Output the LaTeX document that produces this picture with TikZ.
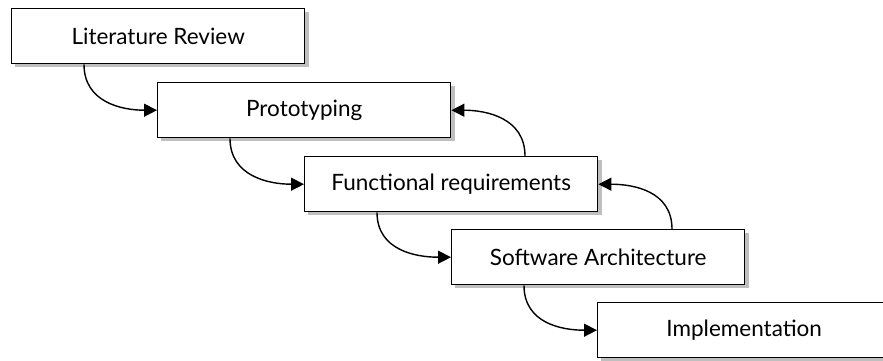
\documentclass[tikz,border=0pt]{standalone}
\usepackage{fontspec}
\setmainfont{Lato}
\usetikzlibrary{arrows.meta}
\definecolor{shadowgray}{HTML}{BFBFBF}
\tikzset{
  stage/.style={draw=black, fill=white, line width=1.4pt, minimum width=293pt,
    minimum height=55pt, inner sep=0pt, font=\fontsize{22.5}{26}\selectfont,
    anchor=north west},
  stageshadow/.style={fill=shadowgray, draw=none, minimum width=294pt,
    minimum height=55pt, inner sep=0pt, anchor=north west},
  flow/.style={line width=1.4pt, -{Triangle[length=13pt,width=13pt]}},
}
\begin{document}
\begin{tikzpicture}[x=1pt,y=-1pt]
\useasboundingbox (0,0) rectangle (883,360);
\begin{scope}
\clip (0,0) rectangle (883,360);
% drop shadows
\foreach \px/\py in {11/8, 157/82, 304/156, 451/229, 597/302}
  \node[stageshadow] at (\px+4,\py+4) {};
% stages
\node[stage] (lit)  at (11,8)   {Literature Review};
\node[stage] (proto) at (157,82) {Prototyping};
\node[stage] (func) at (304,156) {Functional requirements};
\node[stage] (arch) at (451,229) {Software Architecture};
\node[stage] (impl) at (597,302) {Implementation};
\end{scope}
% forward flow
\draw[flow] ([xshift=73pt]lit.south west)
  .. controls +(0,38) and +(-35,0) .. (proto.west);
\draw[flow] ([xshift=73pt]proto.south west)
  .. controls +(0,38) and +(-35,0) .. (func.west);
\draw[flow] ([xshift=73pt]func.south west)
  .. controls +(0,38) and +(-35,0) .. (arch.west);
\draw[flow] ([xshift=73pt]arch.south west)
  .. controls +(0,38) and +(-35,0) .. (impl.west);
% feedback
\draw[flow] ([xshift=221pt]func.north west)
  .. controls +(0,-38) and +(35,0) .. (proto.east);
\draw[flow] ([xshift=221pt]arch.north west)
  .. controls +(0,-38) and +(35,0) .. (func.east);
\end{tikzpicture}
\end{document}
